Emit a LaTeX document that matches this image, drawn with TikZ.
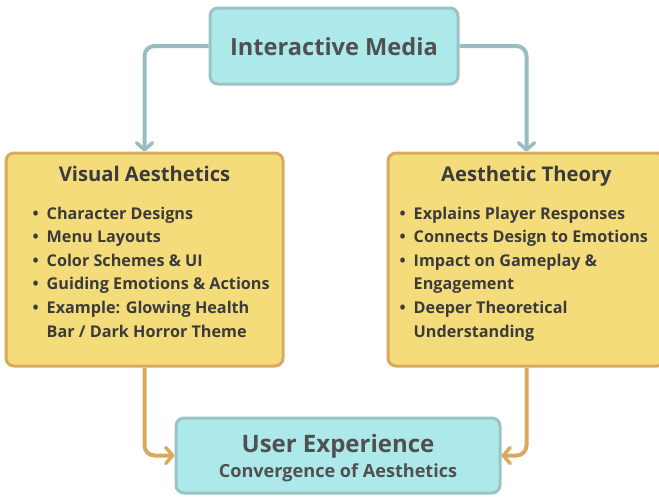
\documentclass[tikz,border=0pt]{standalone}
\usepackage{fontspec}
\setmainfont{Open Sans}
\usetikzlibrary{arrows.meta}

\definecolor{cyanfill}{HTML}{ADE9EA}
\definecolor{cyanline}{HTML}{9CC3C4}
\definecolor{tealarrow}{HTML}{97BDBF}
\definecolor{yellowfill}{HTML}{F5DC7B}
\definecolor{yellowline}{HTML}{D9AA5E}
\definecolor{darktext}{HTML}{3B3B3B}
\definecolor{graytext}{HTML}{505050}

\newcommand{\bul}{\makebox[14pt][l]{\textbullet}}
\newcommand{\cont}{\hspace*{14pt}}

\begin{document}
\begin{tikzpicture}[x=1pt, y=-1pt,
cyanbox/.style = {rectangle, rounded corners=8pt, draw=cyanline, line width=3pt, fill=cyanfill},
yellowbox/.style = {rectangle, rounded corners=8pt, draw=yellowline, line width=3pt, fill=yellowfill},
head/.style = {inner sep=0pt, font=\bfseries\fontsize{20.2}{24}\selectfont, text=darktext},
items/.style = {inner sep=0pt, align=left, font=\bfseries\fontsize{16.2}{23.6}\selectfont, text=darktext},
toparrow/.style = {draw=tealarrow, line width=4pt, rounded corners=10pt, -{Straight Barb[length=7pt, width=16pt, line width=3.5pt, round]}},
botarrow/.style = {draw=yellowline, line width=4pt, rounded corners=10pt, -{Straight Barb[length=7pt, width=16pt, line width=3.5pt, round]}}]

\useasboundingbox (0,0) rectangle (659,496);
\clip (0,0) rectangle (659,496);

\node[cyanbox, minimum width=248pt, minimum height=76pt] (media) at (334,46) {};
\node[inner sep=0pt, font=\bfseries\fontsize{23.6}{28}\selectfont, text=graytext] (mediat) at (334,47) {Interactive Media};

\node[yellowbox, minimum width=277pt, minimum height=213pt] (visual) at (144.5,259.5) {};
\node[yellowbox, minimum width=277pt, minimum height=213pt] (theory) at (526.5,259.5) {};

\node[head, anchor=north] (visualh) at ([yshift=-14pt]visual.north) {Visual Aesthetics};
\node[head, anchor=north] (theoryh) at ([yshift=-14pt]theory.north) {Aesthetic Theory};

\node[items, anchor=north west] (visuall) at ([xshift=28pt, yshift=-55pt]visual.north west)
 {\bul Character Designs\\
  \bul Menu Layouts\\
  \bul Color Schemes \& UI\\
  \bul Guiding Emotions \& Actions\\
  \bul Example: Glowing Health\\
  \cont Bar / Dark Horror Theme};
\node[items, anchor=north west] (theoryl) at ([xshift=13pt, yshift=-55pt]theory.north west)
 {\bul Explains Player Responses\\
  \bul Connects Design to Emotions\\
  \bul Impact on Gameplay \&\\
  \cont Engagement\\
  \bul Deeper Theoretical\\
  \cont Understanding};

\node[cyanbox, minimum width=324pt, minimum height=75pt] (ux) at (338,455.5) {};
\node[inner sep=0pt, font=\bfseries\fontsize{24}{28}\selectfont, text=graytext] (uxt) at (338,446) {User Experience};
\node[inner sep=0pt, font=\bfseries\fontsize{18.1}{21}\selectfont, text=graytext] (uxs) at (338,473) {Convergence of Aesthetics};

\draw[toparrow] (media.west) -| (visual.north);
\draw[toparrow] (media.east) -| (theory.north);
\draw[botarrow] (visual.south) |- (ux.west);
\draw[botarrow] (theory.south) |- (ux.east);
\end{tikzpicture}
\end{document}
